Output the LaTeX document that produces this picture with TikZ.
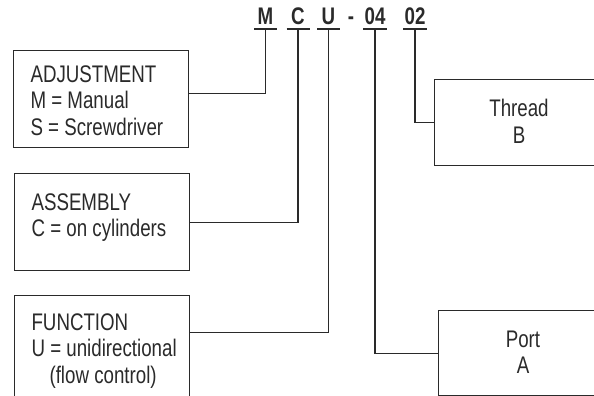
\documentclass[tikz,border=0pt]{standalone}
\usepackage{fontspec}
\setmainfont[FakeStretch=0.78]{Liberation Sans}
\definecolor{ink}{HTML}{2A2A2A}
\begin{document}
\begin{tikzpicture}[x=1pt,y=-1pt,line width=1.1pt,
  box/.style={draw=ink,anchor=north west,inner sep=0pt},
  txt/.style={font=\fontsize{24}{26.5}\selectfont,align=left,inner sep=0pt,anchor=north west,text=ink},
  ctxt/.style={font=\fontsize{24}{26.5}\selectfont,align=center,inner sep=0pt,anchor=north,text=ink},
  code/.style={font=\fontsize{24}{26}\selectfont\bfseries,inner xsep=0pt,inner ysep=4pt,anchor=south,text=ink},
  wire/.style={draw=ink}]
\clip (0,0) rectangle (594,396);
% code letters
\node[code] (M) at (265.5,29) {M};
\node[code] (C) at (298,29) {C};
\node[code] (U) at (328.5,29) {U};
\node[code] (D) at (351,29) {-};
\node[code] (P) at (375,29) {04};
\node[code] (T) at (415,29) {02};
% underlines
\draw[wire] ([xshift=-11.5pt]M.south) -- ([xshift=11.5pt]M.south);
\draw[wire] ([xshift=-11.5pt]C.south) -- ([xshift=11.5pt]C.south);
\draw[wire] ([xshift=-11.5pt]U.south) -- ([xshift=11.5pt]U.south);
\draw[wire] ([xshift=-12pt]P.south) -- ([xshift=12pt]P.south);
\draw[wire] ([xshift=-12pt]T.south) -- ([xshift=12pt]T.south);
% boxes
\node[box,minimum width=175pt,minimum height=97pt] (adj) at (13,50) {};
\node[box,minimum width=175pt,minimum height=97pt] (asm) at (14,173) {};
\node[box,minimum width=175pt,minimum height=110pt] (fun) at (14,295) {};
\node[box,minimum width=170pt,minimum height=86pt] (thr) at (434,79) {};
\node[box,minimum width=170pt,minimum height=85pt] (prt) at (438,310) {};
% texts
\node[txt] (adjT) at (30,65) {ADJUSTMENT\\M = Manual\\S = Screwdriver};
\node[txt] (asmT) at (31,193) {ASSEMBLY\\C = on cylinders};
\node[txt] (funT) at (31,313) {FUNCTION\\U = unidirectional\\\hspace*{18pt}(flow control)};
\node[ctxt] (thrT) at (519,99) {Thread\\B};
\node[ctxt] (prtT) at (523,330) {Port\\A};
% connectors
\draw[wire] (M.south) |- ([yshift=5.5pt]adj.east);
\draw[wire] (C.south) |- (asm.east);
\draw[wire] (U.south) |- ([yshift=18pt]fun.east);
\draw[wire] (P.south) |- (prt.west);
\draw[wire] (T.south) |- (thr.west);
\end{tikzpicture}
\end{document}
